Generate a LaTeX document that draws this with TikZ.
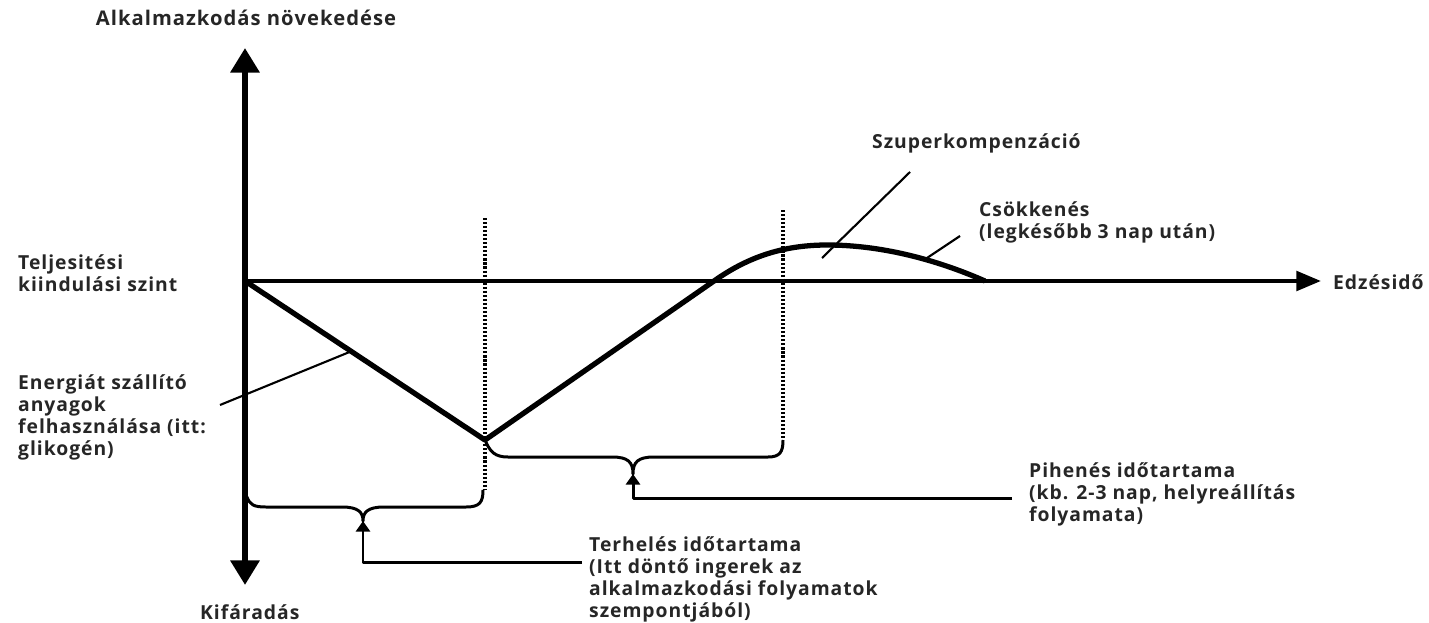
\documentclass[tikz,border=0pt]{standalone}
\usepackage{fontspec}
\setmainfont{Open Sans}[LetterSpace=5]
\usepackage{tikz}
\usetikzlibrary{arrows.meta,positioning,calc}

\begin{document}
\begin{tikzpicture}[x=0.02cm,y=-0.02cm,
    lbl/.style={anchor=west,align=left,font=\bfseries\fontsize{11}{12.5}\selectfont,text=black!85},
    axis/.style={line width=3.4pt},
    curve/.style={line width=3pt,line join=round},
    brace/.style={line width=1.7pt,line join=round},
    pointer/.style={line width=1.2pt},
    guide/.style={line width=2.6pt,dash pattern=on 1.2pt off 1.1pt}]
  \useasboundingbox (0,0) rectangle (1429,622);
  % axes
  \coordinate (O) at (245,281);
  \coordinate (ytop) at (245,48);
  \coordinate (ybot) at (245,585);
  \coordinate (xend) at (1321,281);
  \draw[axis,{Triangle[width=16pt,length=14pt]}-{Triangle[width=16pt,length=14pt]}] (ybot) -- (ytop);
  \draw[line width=2.4pt,-{Triangle[width=11pt,length=14pt]}] (O) -- (xend);
  \node[lbl,anchor=center,font=\bfseries\fontsize{11.5}{12.5}\selectfont] (up) at (246,18) {Alkalmazkodás növekedése};
  \node[lbl] (down) at (194,612) {Kifáradás};
  \node[lbl] (time) at (1327,282) {Edzésidő};
  \node[lbl] (base) at (12,273) {Teljesitési\\kiindulási szint};
  % dotted limits
  \coordinate (min) at (485,440);
  \coordinate (rest) at (783,440);
  \draw[guide] (485,218) -- (485,490);
  \draw[guide] (783,210) -- (rest);
  % performance curve
  \coordinate (peak) at (827,245);
  \coordinate (back) at (985,281);
  \draw[curve] (O) -- (min) -- (714,281)
    .. controls (745,259) and (780,245) .. (peak)
    .. controls (880,245) and (935,259) .. (back);
  % labels with pointers
  \node[lbl] (use) at (12,417) {Energiát szállító\\anyagok\\felhasználása (itt:\\glikogén)};
  \coordinate (use-p) at (220,405);
  \draw[pointer] (use-p) -- (352,351);
  \node[lbl] (super) at (866,143) {Szuperkompenzáció};
  \coordinate (super-p) at (910,172);
  \draw[pointer] (super-p) -- (822,258);
  \node[lbl] (drop) at (973,222) {Csökkenés\\(legkésőbb 3 nap után)};
  \coordinate (drop-p) at (960,236);
  \draw[pointer] (drop-p) -- (927,258);
  % rest brace
  \coordinate (rtip) at (633,474);
  \draw[brace] (min) .. controls (490,452) and (495,457) .. (508,457) -- (612,457)
    .. controls (628,457) and (633,462) .. (rtip)
    .. controls (633,462) and (638,457) .. (654,457) -- (768,457)
    .. controls (780,457) and (783,452) .. (rest);
  \node[lbl] (resttxt) at (1023,494) {Pihenés időtartama\\(kb. 2-3 nap, helyreállítás\\folyamata)};
  \coordinate (rest-in) at (1012,498);
  \draw[brace,-{Triangle[width=8pt,length=6pt]}] (rest-in) -| (rtip);
  % load brace
  \coordinate (ltip) at (363,521);
  \coordinate (lend) at (483,490);
  \draw[brace] (247,497) .. controls (250,505) and (254,507) .. (266,507) -- (342,507)
    .. controls (358,507) and (363,512) .. (ltip)
    .. controls (363,512) and (368,507) .. (384,507) -- (466,507)
    .. controls (480,507) and (483,502) .. (lend);
  \node[lbl] (loadtxt) at (583,579) {Terhelés időtartama\\(Itt döntő ingerek az\\alkalmazkodási folyamatok\\szempontjából)};
  \coordinate (load-in) at (582,562);
  \draw[brace,-{Triangle[width=8pt,length=6pt]}] (load-in) -| (ltip);
\end{tikzpicture}
\end{document}
